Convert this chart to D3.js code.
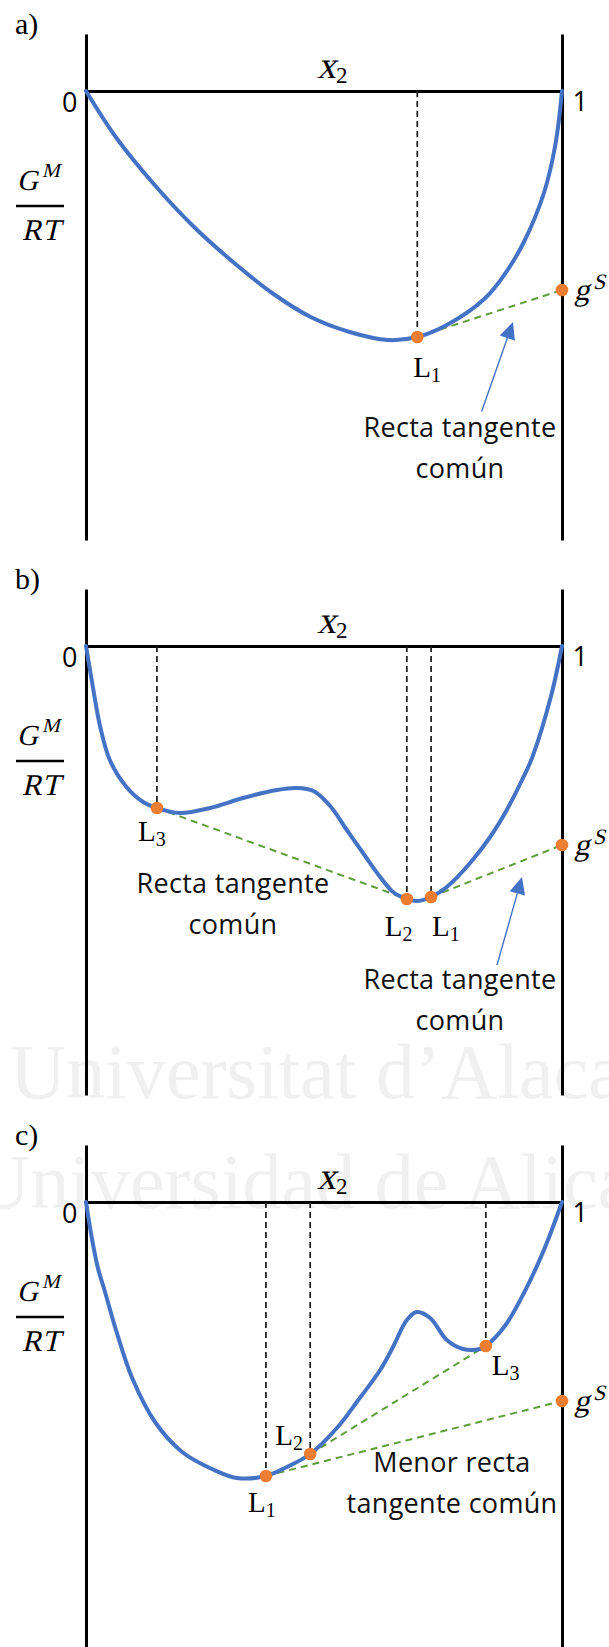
<!DOCTYPE html>
<html>
<head>
<meta charset="utf-8">
<script src="https://cdn.jsdelivr.net/npm/d3@7"></script>
<style>
  html, body { margin: 0; padding: 0; background: #fff; }
  svg { display: block; }
</style>
</head>
<body>
<svg id="chart" width="609" height="1647"></svg>
<script>
// ---- Data: x2 (mole fraction) and G^M/RT (arbitrary units, 0 at the pure components) ----
const curveA = [
  [0, 0], [0.064, -0.47], [0.146, -0.95], [0.227, -1.36], [0.309, -1.71],
  [0.391, -2.02], [0.472, -2.26], [0.554, -2.41], [0.634, -2.49], [0.696, -2.46],
  [0.758, -2.34], [0.839, -2.07], [0.880, -1.83], [0.921, -1.50], [0.962, -1.02],
  [0.986, -0.54], [1, 0]
];
const curveB = [
  [0, 0], [0.0155, -0.44], [0.029, -0.79], [0.050, -1.14], [0.085, -1.41],
  [0.120, -1.56], [0.149, -1.62], [0.197, -1.67], [0.261, -1.62], [0.330, -1.52],
  [0.401, -1.44], [0.443, -1.42], [0.478, -1.45], [0.513, -1.60], [0.548, -1.84],
  [0.582, -2.07], [0.618, -2.31], [0.645, -2.46], [0.674, -2.53], [0.697, -2.55],
  [0.725, -2.51], [0.758, -2.41], [0.807, -2.17], [0.849, -1.91], [0.884, -1.64],
  [0.916, -1.34], [0.937, -1.12], [0.977, -0.50], [1, 0]
];
const curveC = [
  [0, 0], [0.013, -0.38], [0.025, -0.66], [0.040, -0.90], [0.063, -1.28],
  [0.097, -1.76], [0.145, -2.20], [0.202, -2.50], [0.269, -2.68], [0.317, -2.76],
  [0.378, -2.74], [0.422, -2.65], [0.471, -2.52], [0.529, -2.25], [0.569, -2.00],
  [0.618, -1.68], [0.645, -1.45], [0.674, -1.18], [0.695, -1.10], [0.723, -1.16],
  [0.758, -1.38], [0.792, -1.47], [0.828, -1.47], [0.840, -1.44], [0.880, -1.24],
  [0.920, -0.91], [0.962, -0.48], [1, 0]
];

// Liquid phases (name, x2, G^M/RT) and the solid reference value at x2 = 1
const phasesA = [["1", 0.696, -2.46]];
const phasesB = [["3", 0.149, -1.62], ["2", 0.674, -2.53], ["1", 0.725, -2.51]];
const phasesC = [["1", 0.378, -2.74], ["2", 0.471, -2.52], ["3", 0.840, -1.44]];
const gSolid = -1.99;

// Common tangent segments between phases ("S" = solid point)
const tangentsA = [["1", "S"]];
const tangentsB = [["3", "2"], ["1", "S"]];
const tangentsC = [["2", "3"], ["1", "S"]];

const xTicks = [0, 1];
const panelTags = ["a)", "b)", "c)"];

// ---- Layout ----
const SERIF = "'Liberation Serif', 'Times New Roman', serif";
const SANS = "'Open Sans', 'Noto Sans', sans-serif";
const BLUE = "#4472C4", ORANGE = "#ED7D31", GREEN = "#5E9C3C";
const SLANT = -13;   // math symbols are set as slanted serif

const layout = [
  { top: 0,
    labelOff: { "1": [-4, 40] },
    notes: [{ x: 460, y: 437, lines: ["Recta tangente", "común"] }],
    arrows: [{ from: [481.6, 411.5], to: [513, 322] }] },
  { top: 555,
    labelOff: { "3": [-19, 33], "2": [-22, 37], "1": [1, 39] },
    notes: [{ x: 233, y: 338, lines: ["Recta tangente", "común"] },
            { x: 460, y: 434, lines: ["Recta tangente", "común"] }],
    arrows: [{ from: [497, 410], to: [522, 322] }] },
  { top: 1111,
    labelOff: { "1": [-18, 36], "2": [-35, -9], "3": [6, 29] },
    notes: [{ x: 452, y: 361, lines: ["Menor recta", "tangente común"] }],
    arrows: [] }
];

const panels = [
  { curve: curveA, phases: phasesA, tangents: tangentsA },
  { curve: curveB, phases: phasesB, tangents: tangentsB },
  { curve: curveC, phases: phasesC, tangents: tangentsC }
];

const svg = d3.select("#chart");

// slanted serif text anchored at (x, y)
function mathText(parent, x, y, size) {
  return parent.append("g").attr("transform", `translate(${x},${y}) skewX(${SLANT})`)
    .append("text").attr("font-family", SERIF).attr("font-size", size);
}

// Faint background watermark
const wm = svg.append("g").attr("font-family", SERIF).attr("font-size", 78).attr("fill", "#f0f0f0");
wm.append("text").attr("x", 10).attr("y", 1098).text("Universitat d’Alacant");
wm.append("text").attr("x", -26).attr("y", 1208).text("Universidad de Alicante");

const x = d3.scaleLinear().domain([0, 1]).range([86, 562]);
const line = d3.line().x(d => x(d[0])).curve(d3.curveCatmullRom.alpha(0.5));

panels.forEach((p, i) => {
  const L = layout[i];
  const top = L.top;
  const y = d3.scaleLinear().domain([0.57, -4.49]).range([top + 34, top + 540]);
  const g = svg.append("g");

  // panel tag
  g.append("text").attr("x", 15).attr("y", top + 34)
    .attr("font-family", SERIF).attr("font-size", 30).text(panelTags[i]);

  // vertical axes at x2 = 0 and x2 = 1
  [0, 1].forEach(v => {
    const ax = g.append("g").attr("transform", `translate(${x(v)},0)`)
      .call(d3.axisLeft(y).tickValues([]).tickSizeOuter(0));
    ax.select(".domain").attr("stroke", "#000").attr("stroke-width", 3);
  });

  // composition axis along G^M/RT = 0
  const hx = g.append("g").attr("transform", `translate(0,${y(0)})`)
    .call(d3.axisBottom(x).tickValues(xTicks).tickSize(0).tickSizeOuter(0).tickFormat(d3.format("d")));
  hx.select(".domain").attr("stroke", "#000").attr("stroke-width", 3);
  hx.selectAll(".tick text")
    .attr("font-family", SANS).attr("font-size", 27).attr("fill", "#000")
    .attr("dy", 0)
    .attr("y", d => d === 0 ? 21 : 20)
    .attr("x", d => d === 0 ? -9 : 10)
    .attr("text-anchor", d => d === 0 ? "end" : "start");

  // x2 title
  mathText(g, 317, top + 77.5, 38).text("x");
  g.append("text").attr("x", 336).attr("y", top + 82.5)
    .attr("font-family", SERIF).attr("font-size", 23).text("2");

  // G^M / RT title
  const gt = mathText(g, 17, top + 190, 29);
  gt.append("tspan").text("G");
  gt.append("tspan").attr("font-size", 20).attr("dy", -13).attr("dx", 1).text("M");
  g.append("line").attr("x1", 16).attr("x2", 64).attr("y1", top + 206).attr("y2", top + 206)
    .attr("stroke", "#000").attr("stroke-width", 2.5);
  mathText(g, 42, top + 240, 30).attr("text-anchor", "middle")
    .attr("letter-spacing", 2).text("RT");

  const pos = {};
  p.phases.forEach(([n, px, pg]) => { pos[n] = [px, pg]; });
  pos["S"] = [1, gSolid];

  // dashed drop lines from the composition axis to each phase
  g.selectAll(".drop").data(p.phases).enter().append("line")
    .attr("x1", d => x(d[1])).attr("x2", d => x(d[1]))
    .attr("y1", y(0)).attr("y2", d => y(d[2]))
    .attr("stroke", "#1a1a1a").attr("stroke-width", 1.7).attr("stroke-dasharray", "6,4");

  // common tangent segments
  g.selectAll(".tan").data(p.tangents).enter().append("line")
    .attr("x1", d => x(pos[d[0]][0])).attr("y1", d => y(pos[d[0]][1]))
    .attr("x2", d => x(pos[d[1]][0])).attr("y2", d => y(pos[d[1]][1]))
    .attr("stroke", GREEN).attr("stroke-width", 2).attr("stroke-dasharray", "7,5");

  // G^M/RT curve
  g.append("path").datum(p.curve)
    .attr("d", line.y(d => y(d[1])))
    .attr("fill", "none").attr("stroke", BLUE).attr("stroke-width", 4)
    .attr("stroke-linecap", "round");

  // phase points and solid point
  g.selectAll(".pt").data(p.phases.map(d => [d[1], d[2]]).concat([[1, gSolid]])).enter()
    .append("circle").attr("cx", d => x(d[0])).attr("cy", d => y(d[1])).attr("r", 6.3)
    .attr("fill", ORANGE);

  // phase labels L_n
  p.phases.forEach(([n, px, pg]) => {
    const off = L.labelOff[n];
    const t = g.append("text").attr("x", x(px) + off[0]).attr("y", y(pg) + off[1])
      .attr("font-family", SERIF).attr("font-size", 29);
    t.append("tspan").text("L");
    t.append("tspan").attr("font-size", 20).attr("dy", 5).text(n);
  });

  // g^S label
  const gs = mathText(g, x(1) + 12, y(gSolid) + 10, 31);
  gs.append("tspan").text("g");
  gs.append("tspan").attr("font-size", 22).attr("dy", -11).attr("dx", 1).text("S");

  // notes
  L.notes.forEach(nt => {
    nt.lines.forEach((s, k) => {
      g.append("text").attr("x", nt.x).attr("y", top + nt.y + k * 41)
        .attr("text-anchor", "middle").attr("font-family", SANS).attr("font-size", 27)
        .attr("letter-spacing", 0.3).attr("fill", "#111").text(s);
    });
  });

  // pointer arrows
  L.arrows.forEach(a => {
    const x0 = a.from[0], y0 = top + a.from[1], x1 = a.to[0], y1 = top + a.to[1];
    const dx = x1 - x0, dy = y1 - y0, len = Math.hypot(dx, dy);
    const ux = dx / len, uy = dy / len, nx = -uy, ny = ux;
    const hl = 17, hw = 8;
    const bx = x1 - ux * hl, by = y1 - uy * hl;
    g.append("line").attr("x1", x0).attr("y1", y0).attr("x2", bx).attr("y2", by)
      .attr("stroke", BLUE).attr("stroke-width", 1.4);
    g.append("path")
      .attr("d", `M${x1},${y1}L${bx + nx * hw},${by + ny * hw}L${bx - nx * hw},${by - ny * hw}Z`)
      .attr("fill", BLUE);
  });
});
</script>
</body>
</html>
